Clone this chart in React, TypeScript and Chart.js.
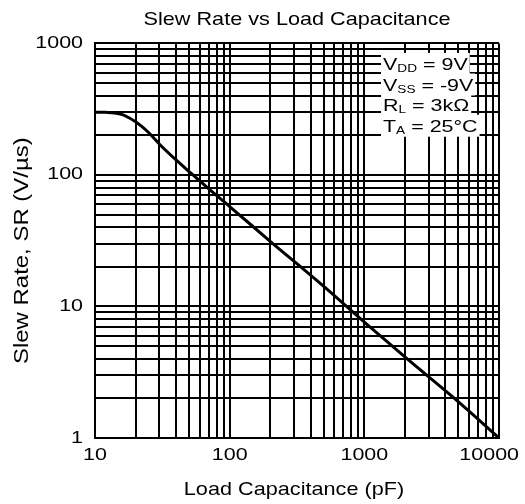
import React, { useEffect, useRef } from 'react';
import { Chart, registerables } from 'chart.js';

Chart.register(...registerables);

// ---- data ----
const capacitancePF = [10, 12, 14, 16, 18, 20, 22, 25, 30, 40, 50, 70, 100, 200, 500, 1000, 2000, 5000, 10000];
const slewRate = [300, 299, 296, 287, 271, 254, 236, 210, 172, 130, 106, 78.3, 57.5, 31.3, 14.2, 7.6, 4.13, 1.88, 1];

const xGridValues = [
  10, 20, 30, 40, 50, 60, 70, 80, 90,
  100, 200, 300, 400, 500, 600, 700, 800, 900,
  1000, 2000, 3000, 4000, 5000, 6000, 7000, 8000, 9000,
  10000,
];
const yGridValues = [
  1, 2, 3, 4, 5, 6, 7, 8, 9,
  10, 20, 30, 40, 50, 60, 70, 80, 90,
  100, 200, 300, 400, 500, 600, 700, 800, 900,
  1000,
];
const xTickLabels = ['10', '100', '1000', '10000'];
const yTickLabels = ['1', '10', '100', '1000'];

const titleText = 'Slew Rate vs Load Capacitance';
const xTitle = 'Load Capacitance (pF) ';
const yTitle = 'Slew Rate, SR (V/µs)   ';

const conditionSymbols = ['V', 'V', 'R', 'T'];
const conditionSubs = ['DD', 'SS', 'L', 'A'];
const conditionValues = [' = 9V', ' = -9V', ' = 3kΩ', ' = 25°C'];

const FAMILY = "'Liberation Sans', Arial, Helvetica, sans-serif";
const SMALL_STRETCH = 1.3;
const LARGE_STRETCH = 1.14;

function stretchFor(font: string): number {
  const m = /(\d+(?:\.\d+)?)px/.exec(font);
  const size = m ? parseFloat(m[1]) : 12;
  return size < 18 ? SMALL_STRETCH : LARGE_STRETCH;
}

const stretchTextPlugin = {
  id: 'stretchText',
  beforeInit(chart: any) {
    const ctx = chart.ctx as any;
    if (ctx.__stretched) return;
    ctx.__stretched = true;
    const proto = CanvasRenderingContext2D.prototype;
    ctx.fillText = function (text: string, x: number, y: number) {
      const sx = stretchFor(this.font);
      const w = proto.measureText.call(this, text).width * sx;
      let ax = x;
      const t = this.getTransform();
      if (this.textAlign === 'center' && Math.abs(t.b) < 1e-6) {
        const limit = chart.width - 6;
        const right = t.e + x + w / 2;
        if (right > limit) ax = x - (right - limit);
      }
      this.save();
      this.translate(ax, y);
      this.scale(sx, 1);
      proto.fillText.call(this, text, 0, 0);
      this.restore();
    };
  },
};

const conditionsPlugin = {
  id: 'conditions',
  afterDraw(chart: any) {
    const { ctx, chartArea } = chart;
    const left = chartArea.right - 116;
    const rows = conditionSymbols.map((sym, i) => {
      const base = chartArea.top + 26.5 + i * 20.6;
      ctx.font = `16.5px ${FAMILY}`;
      const w1 = ctx.measureText(sym).width * SMALL_STRETCH;
      const w3 = ctx.measureText(conditionValues[i]).width * SMALL_STRETCH;
      ctx.font = `10.5px ${FAMILY}`;
      const w2 = ctx.measureText(conditionSubs[i]).width * SMALL_STRETCH;
      return { sym, sub: conditionSubs[i], val: conditionValues[i], base, w1, w2, w3 };
    });
    ctx.save();
    ctx.textAlign = 'left';
    ctx.textBaseline = 'alphabetic';
    ctx.fillStyle = '#ffffff';
    rows.forEach((r) => {
      ctx.fillRect(left - 2, r.base - 17, r.w1 + r.w2 + r.w3 + 4, 22);
    });
    ctx.fillStyle = '#000000';
    rows.forEach((r) => {
      ctx.font = `16.5px ${FAMILY}`;
      ctx.fillText(r.sym, left, r.base);
      ctx.font = `10.5px ${FAMILY}`;
      ctx.fillText(r.sub, left + r.w1, r.base + 2);
      ctx.font = `16.5px ${FAMILY}`;
      ctx.fillText(r.val, left + r.w1 + r.w2, r.base);
    });
    ctx.restore();
  },
};

export default function App() {
  const canvasRef = useRef<HTMLCanvasElement | null>(null);

  useEffect(() => {
    const canvas = canvasRef.current;
    if (!canvas) return;
    const points = capacitancePF.map((x, i) => ({ x, y: slewRate[i] }));
    const chart = new Chart(canvas, {
      type: 'scatter',
      data: {
        datasets: [
          {
            data: points,
            showLine: true,
            borderColor: '#000000',
            borderWidth: 3,
            pointRadius: 0,
            cubicInterpolationMode: 'monotone',
            fill: false,
          } as any,
        ],
      },
      options: {
        responsive: false,
        animation: false,
        devicePixelRatio: 1,
        layout: { padding: { left: 0, right: 26, top: 0, bottom: 0 } },
        plugins: {
          legend: { display: false },
          tooltip: { enabled: false },
          title: {
            display: true,
            text: titleText,
            color: '#000000',
            fullSize: false,
            font: { family: FAMILY, size: 19, weight: 'normal' },
            padding: { top: 8.6, bottom: 12 },
          },
        },
        scales: {
          x: {
            type: 'logarithmic',
            min: 10,
            max: 10000,
            afterBuildTicks: (scale: any) => {
              scale.ticks = xGridValues.map((v) => ({ value: v }));
            },
            afterFit: (scale: any) => {
              scale.height = 66;
              scale.paddingLeft = 0;
              scale.paddingRight = 0;
            },
            grid: { color: '#000000', lineWidth: 2, drawTicks: false },
            border: { color: '#000000', width: 2 },
            ticks: {
              autoSkip: false,
              maxRotation: 0,
              minRotation: 0,
              padding: 8,
              color: '#000000',
              font: { family: FAMILY, size: 16.5 },
              callback: (value: any) => (xTickLabels.includes(String(value)) ? String(value) : ''),
            },
            title: {
              display: true,
              text: xTitle,
              color: '#000000',
              font: { family: FAMILY, size: 19 },
              padding: { top: 0, bottom: 2.6 },
            },
          },
          y: {
            type: 'logarithmic',
            min: 1,
            max: 1000,
            afterBuildTicks: (scale: any) => {
              scale.ticks = yGridValues.map((v) => ({ value: v }));
            },
            afterFit: (scale: any) => {
              scale.width = 95;
              scale.paddingTop = 0;
              scale.paddingBottom = 0;
            },
            grid: { color: '#000000', lineWidth: 2, drawTicks: false },
            border: { color: '#000000', width: 2 },
            ticks: {
              autoSkip: false,
              padding: 12,
              color: '#000000',
              font: { family: FAMILY, size: 16.5 },
              callback: (value: any) => (yTickLabels.includes(String(value)) ? String(value) : ''),
            },
            title: {
              display: true,
              text: yTitle,
              color: '#000000',
              font: { family: FAMILY, size: 21 },
              padding: { top: 9.5, bottom: 0 },
            },
          },
        },
      },
      plugins: [stretchTextPlugin, conditionsPlugin],
    } as any);
    return () => chart.destroy();
  }, []);

  return (
    <div style={{ position: 'absolute', left: 0, top: 0, width: 525, height: 504, background: '#ffffff' }}>
      <canvas ref={canvasRef} width={525} height={504} style={{ display: 'block', width: 525, height: 504 }} />
    </div>
  );
}
